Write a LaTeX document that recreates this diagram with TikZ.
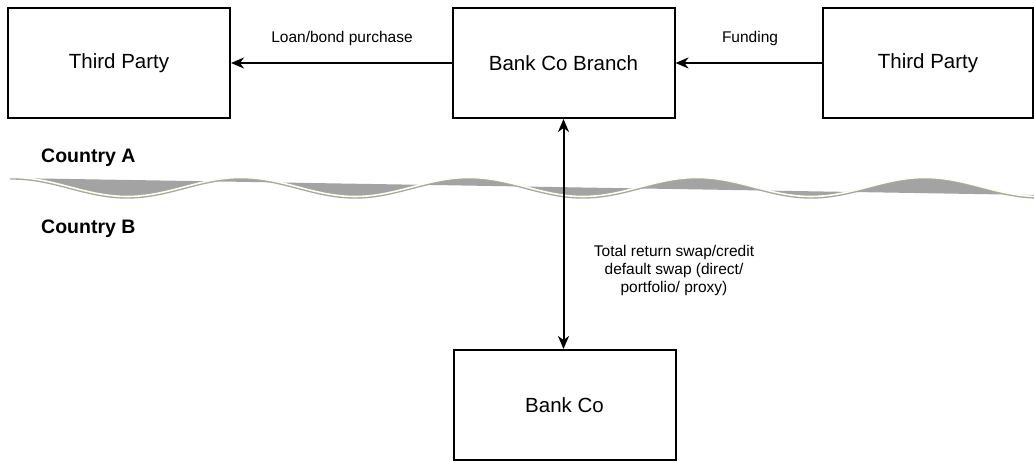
\documentclass[tikz,border=0pt]{standalone}
\usepackage{fontspec}
\setmainfont{Liberation Sans}
\usetikzlibrary{arrows.meta}
\begin{document}
\begin{tikzpicture}[x=1pt,y=-1pt,
  box/.style={draw=black,line width=2pt,minimum width=222pt,minimum height=110pt,inner sep=0pt,font=\fontsize{20.5}{24}\selectfont},
  lbl/.style={font=\fontsize{15.5}{18}\selectfont,inner sep=0pt},
  ctry/.style={font=\fontsize{19.5}{23}\selectfont\bfseries,anchor=west,inner sep=0pt},
  arr/.style={line width=2pt,-{Stealth[length=13pt,width=11pt,inset=4pt]}},
  darr/.style={line width=2pt,{Stealth[length=13pt,width=11pt,inset=4pt]}-{Stealth[length=13pt,width=11pt,inset=4pt]}}]
\useasboundingbox (0,0) rectangle (1034,462);
% wave
\fill[black!36] plot[domain=10:1034,samples=240] (\x,{187-9.5*cos(1.578947*(\x-13))}) -- (1034,195) -- (10,178) -- cycle;
\draw[black!35,line width=2.4pt] plot[domain=10:1034,samples=240] (\x,{188-9.5*cos(1.578947*(\x-13))});
\draw[white!92!yellow,line width=1.6pt] plot[domain=10:1034,samples=240] (\x,{187-9.5*cos(1.578947*(\x-13))});
% boxes
\node[box] (tp1) at (119,63) {Third Party};
\node[box] (bcb) at (563.5,63) {Bank Co Branch};
\node[box,minimum width=210pt] (tp2) at (928,63) {Third Party};
\node[box] (bc) at (564.5,405) {Bank Co};
% labels
\node[lbl] (l1) at (342,38) {Loan/bond purchase};
\node[lbl] (l2) at (750,38) {Funding};
\node[lbl,align=center] (l3) at (674,270) {Total return swap/credit\\default swap (direct/\\portfolio/ proxy)};
\node[ctry] (ca) at (41,158) {Country A};
\node[ctry] (cb) at (41,229) {Country B};
% connectors
\draw[arr] (bcb.west) -- (tp1.east);
\draw[arr] (tp2.west) -- (bcb.east);
\draw[darr] (bcb.south) -- (bcb.south |- bc.north);
\end{tikzpicture}
\end{document}
